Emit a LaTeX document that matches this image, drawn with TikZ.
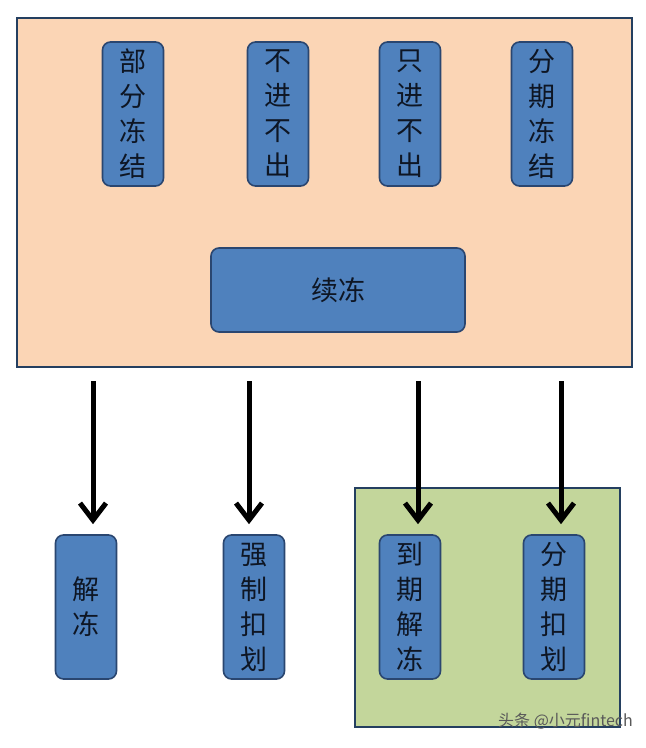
\documentclass[tikz,border=0pt]{standalone}
\usepackage{fontspec}
\newfontfamily\cjk{Noto Sans CJK SC}
\usetikzlibrary{arrows.meta}
\definecolor{peach}{HTML}{FBD5B5}
\definecolor{navy}{HTML}{243F60}
\definecolor{boxblue}{HTML}{4F81BD}
\definecolor{boxedge}{HTML}{2A4670}
\definecolor{olive}{HTML}{C3D69B}
\definecolor{txt}{HTML}{0E1624}
\tikzset{
  panel/.style={draw=navy, line width=2.5pt},
  vbox/.style={draw=boxedge, fill=boxblue, line width=1.6pt, rounded corners=8pt,
    minimum width=61pt, minimum height=144pt, inner sep=0pt, align=center,
    text=txt, font=\cjk\fontsize{27}{35}\selectfont},
  hbox/.style={vbox, minimum width=254pt, minimum height=84pt},
  flow/.style={line width=5pt, -{Straight Barb[length=17pt,width=26pt]}},
}
\begin{document}
\begin{tikzpicture}[x=1pt,y=-1pt]
\useasboundingbox (0,0) rectangle (646,748);
\fill[white] (0,0) rectangle (646,748);
% panels
\draw[panel, fill=peach] (17,18) rectangle (632,367);
\draw[panel, fill=olive] (355,488) rectangle (620,727);
% top nodes
\node[vbox] (bf) at (133,114) {部\\分\\冻\\结};
\node[vbox] (bj) at (278,114) {不\\进\\不\\出};
\node[vbox] (zj) at (410,114) {只\\进\\不\\出};
\node[vbox] (fq) at (542,114) {分\\期\\冻\\结};
\node[hbox] (xd) at (338,290) {续冻};
% bottom nodes
\node[vbox] (jd) at (86,607) {解\\冻};
\node[vbox] (qz) at (254,607) {强\\制\\扣\\划};
\node[vbox] (dq) at (410,607) {到\\期\\解\\冻};
\node[vbox] (fk) at (554,607) {分\\期\\扣\\划};
% arrows
\coordinate (a1) at (93,381);
\coordinate (a2) at (249,381);
\coordinate (a3) at (418,381);
\coordinate (a4) at (561,381);
\draw[flow, shorten >=10pt] (a1) -- (a1 |- jd.north);
\draw[flow, shorten >=10pt] (a2) -- (a2 |- qz.north);
\draw[flow, shorten >=10pt] (a3) -- (a3 |- dq.north);
\draw[flow, shorten >=10pt] (a4) -- (a4 |- fk.north);
% watermark
\node[text=black!65, font=\cjk\fontsize{16}{16}\selectfont, anchor=east, inner sep=0pt] (wm) at (633,721) {头条 @小元fintech};
\end{tikzpicture}
\end{document}
